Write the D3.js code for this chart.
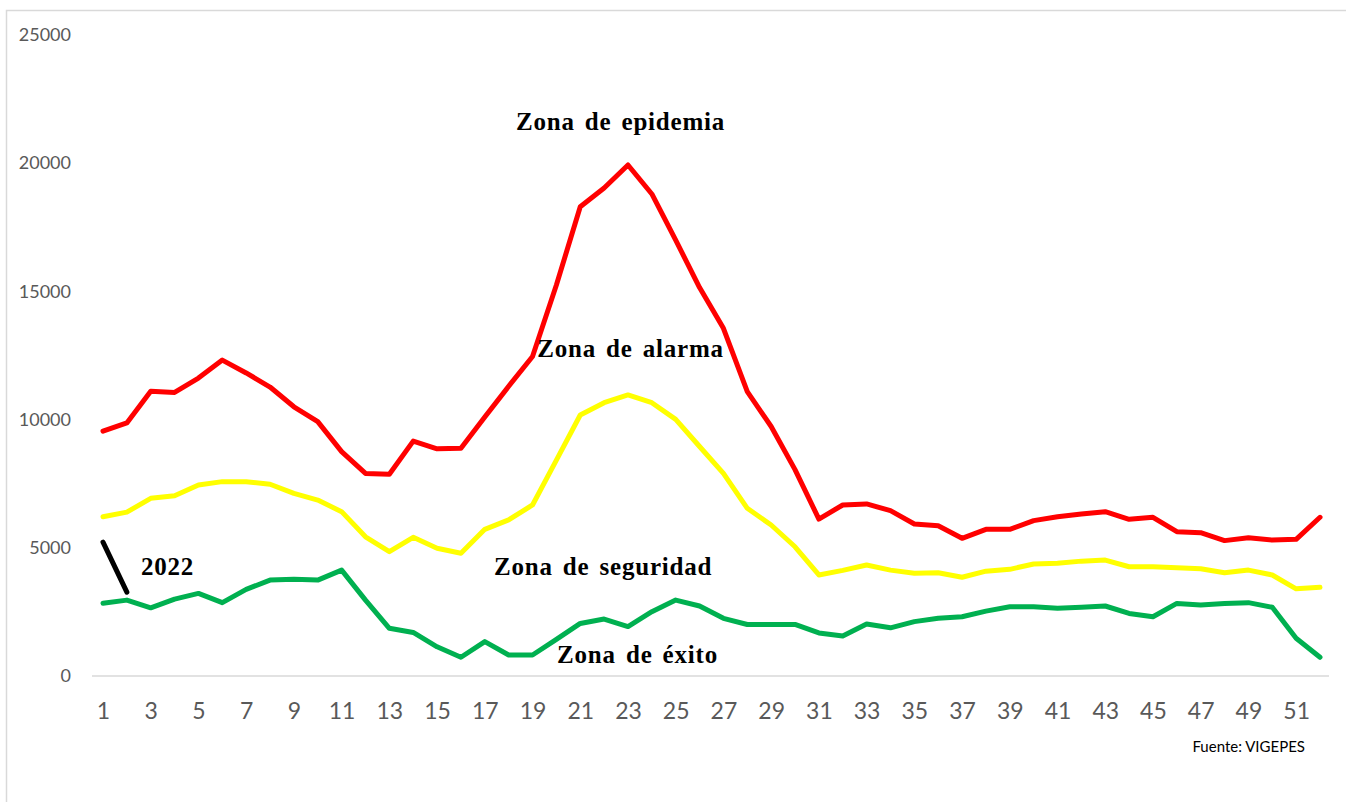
<!DOCTYPE html>
<html>
<head>
<meta charset="utf-8">
<script src="https://cdn.jsdelivr.net/npm/d3@7"></script>
<style>
  body { margin: 0; background: #fff; }
  .tick text { fill: #595959; font-family: Lato, "Open Sans", sans-serif; }
  .zona { font-family: "Liberation Serif", "DejaVu Serif", serif; font-weight: bold; fill: #000; }
</style>
</head>
<body>
<svg id="chart" width="1346" height="802"></svg>
<script>
var semanas = d3.range(1, 53);

var epidemia = [9550, 9870, 11110, 11060, 11620, 12320, 11820, 11270, 10500, 9920,
    8750, 7900, 7870, 9160, 8860, 8880, 10100, 11300, 12460, 15250,
    18300, 19030, 19930, 18800, 17000, 15150, 13560, 11090, 9730, 8050,
    6120, 6670, 6710, 6450, 5930, 5860, 5370, 5720, 5720, 6060,
    6210, 6320, 6410, 6110, 6190, 5630, 5590, 5280, 5390, 5300,
    5330, 6190];

var alarma = [6210, 6390, 6930, 7030, 7450, 7580, 7580, 7480, 7120, 6860,
    6410, 5430, 4850, 5410, 4980, 4790, 5720, 6090, 6670, 8420,
    10180, 10660, 10960, 10660, 10010, 8950, 7900, 6540, 5890, 5040,
    3940, 4120, 4330, 4130, 4010, 4030, 3850, 4090, 4160, 4370,
    4400, 4480, 4520, 4260, 4260, 4220, 4180, 4030, 4130, 3940,
    3400, 3460];

var seguridad = [2840, 2960, 2660, 3000, 3220, 2860, 3380, 3740, 3770, 3740,
    4130, 2960, 1860, 1700, 1140, 730, 1340, 820, 820, 1430,
    2050, 2220, 1930, 2510, 2960, 2730, 2250, 2010, 2010, 2010,
    1680, 1560, 2030, 1880, 2120, 2250, 2310, 2530, 2700, 2700,
    2640, 2680, 2730, 2440, 2310, 2830, 2770, 2830, 2860, 2680,
    1470, 730];

// casos 2022 (solo semanas 1 y 2)
var casos2022 = [5220, 3270];

var yTicks = [0, 5000, 10000, 15000, 20000, 25000];
var xTicks = semanas.filter(function (d) { return d % 2 == 1; });

var zonas = [
    { texto: "Zona de epidemia", semana: 22.69, valor: 21300 },
    { texto: "Zona de alarma", semana: 23.11, valor: 12440 },
    { texto: "Zona de seguridad", semana: 21.96, valor: 3940 },
    { texto: "Zona de éxito", semana: 23.40, valor: 507 },
    { texto: "2022", semana: 2.59, valor: 3940 }
];

var svg = d3.select("#chart");

// marco
svg.append("rect")
    .attr("x", 6.5).attr("y", 10.5)
    .attr("width", 1345).attr("height", 800)
    .attr("fill", "none")
    .attr("stroke", "#d9d9d9")
    .attr("stroke-width", 1.5);

var x = d3.scaleLinear().domain([1, 52]).range([103, 1320]);
var y = d3.scaleLinear().domain([0, 25000]).range([676, 35]);

// eje y
svg.append("g")
    .attr("transform", "translate(71,0)")
    .call(d3.axisLeft(y).tickValues(yTicks).tickSize(0).tickPadding(0).tickFormat(d3.format("d")))
    .call(function (g) { g.select(".domain").remove(); })
    .selectAll("text")
    .attr("font-size", 18);

// eje x
var ax = svg.append("g")
    .attr("transform", "translate(0,676)")
    .call(d3.axisBottom(x).tickValues(xTicks).tickSize(0).tickPadding(27).tickFormat(d3.format("d")));
ax.select(".domain").remove();
ax.selectAll("text").attr("font-size", 23);

svg.append("line")
    .attr("x1", 92).attr("x2", 1329)
    .attr("y1", 676).attr("y2", 676)
    .attr("stroke", "#d9d9d9")
    .attr("stroke-width", 1.5);

var line = d3.line()
    .x(function (d, i) { return x(i + 1); })
    .y(function (d) { return y(d); });

var series = [
    { datos: epidemia, color: "#ff0000" },
    { datos: alarma, color: "#ffff00" },
    { datos: seguridad, color: "#00b050" },
    { datos: casos2022, color: "#000000" }
];

svg.append("g")
    .selectAll("path")
    .data(series)
    .enter().append("path")
    .attr("d", function (d) { return line(d.datos); })
    .attr("fill", "none")
    .attr("stroke", function (d) { return d.color; })
    .attr("stroke-width", 5)
    .attr("stroke-linejoin", "round")
    .attr("stroke-linecap", "round");

svg.append("g")
    .selectAll("text")
    .data(zonas)
    .enter().append("text")
    .attr("class", "zona")
    .attr("x", function (d) { return x(d.semana); })
    .attr("y", function (d) { return y(d.valor); })
    .attr("text-anchor", function (d) { return d.texto == "2022" ? "start" : "middle"; })
    .attr("font-size", 25)
    .attr("letter-spacing", 0.8)
    .attr("word-spacing", 3)
    .text(function (d) { return d.texto; });

svg.append("text")
    .attr("x", 1305)
    .attr("y", 752)
    .attr("text-anchor", "end")
    .attr("font-family", "Lato, 'Open Sans', sans-serif")
    .attr("font-size", 15)
    .attr("fill", "#000")
    .text("Fuente: VIGEPES");
</script>
</body>
</html>
